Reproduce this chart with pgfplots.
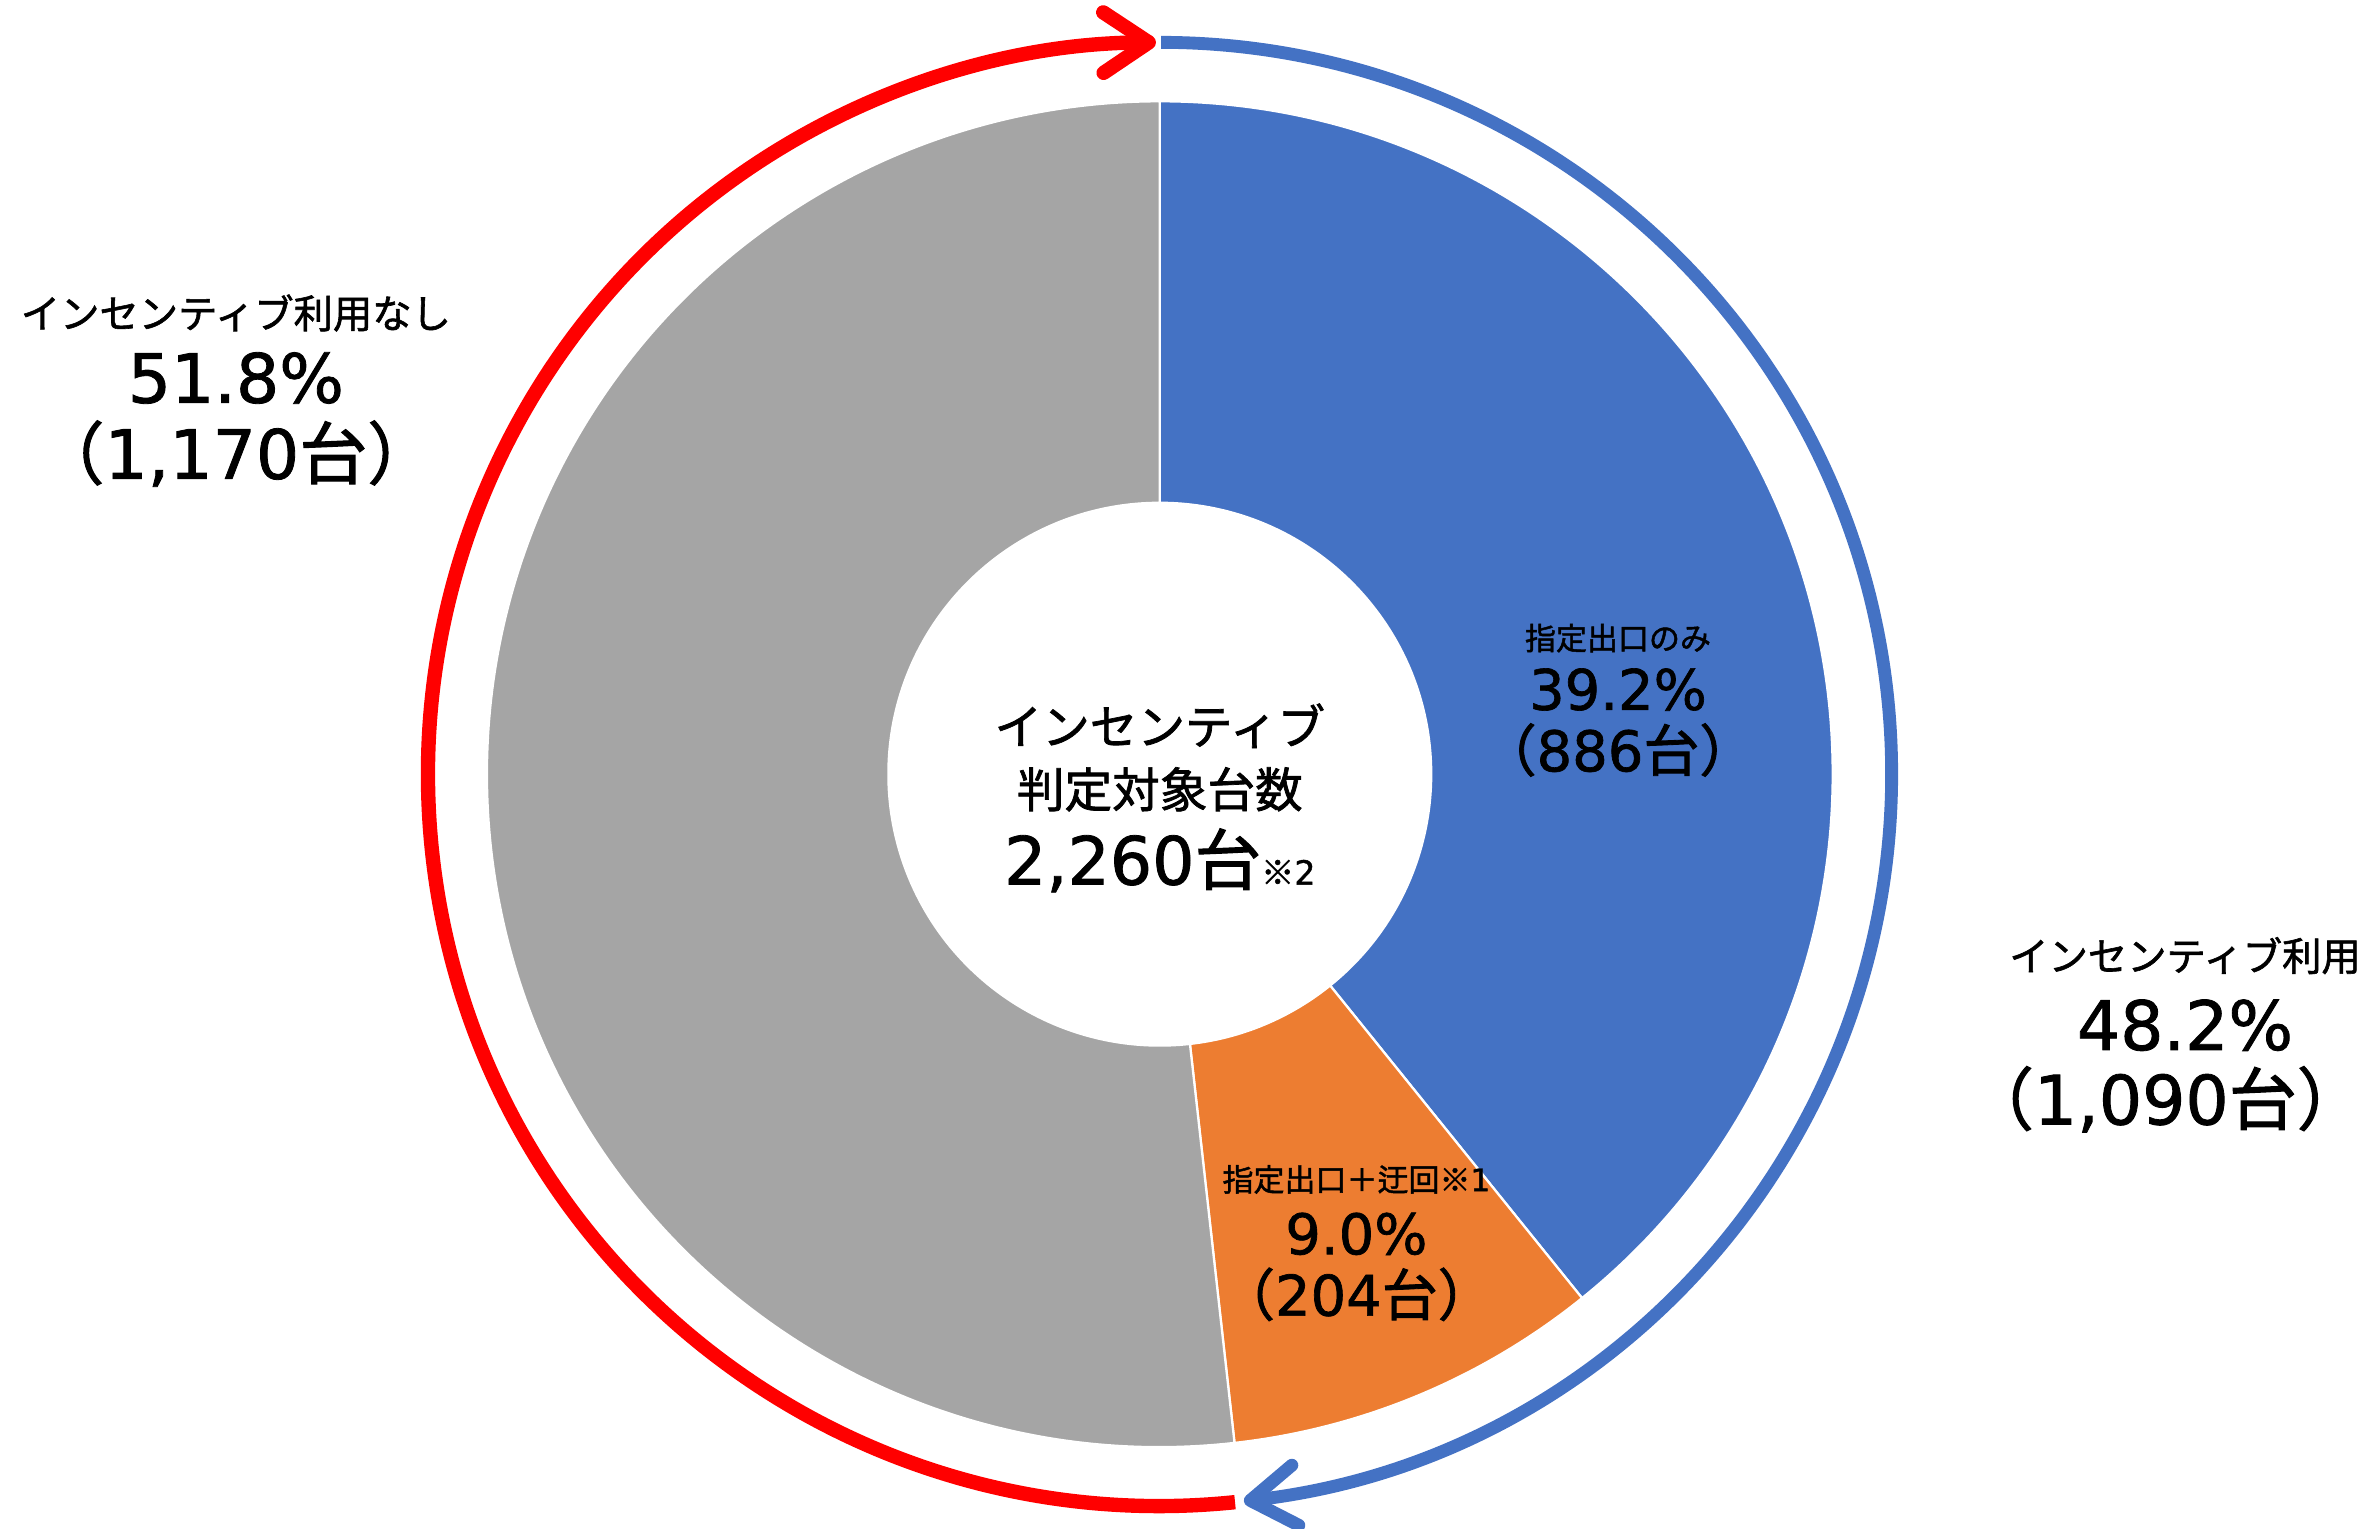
\documentclass[border=0pt]{standalone}
\usepackage{pgfplots}
\pgfplotsset{compat=1.18}
\usetikzlibrary{arrows.meta}
\usepackage{fontspec}
\setmainfont{Noto Sans CJK JP}[FakeBold=1.5]
\newfontfamily\lat{DejaVu Sans}[FakeBold=1.2]
\definecolor{cblue}{HTML}{4472C4}
\definecolor{corange}{HTML}{ED7D31}
\definecolor{cgrey}{HTML}{A5A5A5}
\definecolor{cred}{HTML}{FF0000}
\newcommand{\fs}[1]{\fontsize{#1}{#1}\selectfont}
\begin{document}
\begin{tikzpicture}
% data: vehicles per group
\pgfmathsetmacro{\vA}{886}
\pgfmathsetmacro{\vB}{204}
\pgfmathsetmacro{\vC}{1170}
\pgfmathsetmacro{\tot}{\vA+\vB+\vC}
\pgfmathsetmacro{\aA}{90}
\pgfmathsetmacro{\aB}{\aA-\vA/\tot*360}
\pgfmathsetmacro{\aC}{\aB-\vB/\tot*360}
\pgfmathsetmacro{\aD}{\aC-\vC/\tot*360}
\def\Ro{445pt}
\def\Ri{179.5pt}
\begin{axis}[width=1568pt,height=1011pt,scale only axis,hide axis,
  xmin=0,xmax=1568,ymin=0,ymax=1011,clip=false,
  every node/.append style={inner sep=0pt}]
\filldraw[fill=cblue,draw=white,line width=1.5pt] (axis cs:767,499) ++(\aA:\Ro) arc[start angle=\aA,end angle=\aB,radius=\Ro] -- ++(\aB+180:445pt-179.5pt) arc[start angle=\aB,end angle=\aA,radius=\Ri] -- cycle;
\filldraw[fill=corange,draw=white,line width=1.5pt] (axis cs:767,499) ++(\aB:\Ro) arc[start angle=\aB,end angle=\aC,radius=\Ro] -- ++(\aC+180:445pt-179.5pt) arc[start angle=\aC,end angle=\aB,radius=\Ri] -- cycle;
\filldraw[fill=cgrey,draw=white,line width=1.5pt] (axis cs:767,499) ++(\aC:\Ro) arc[start angle=\aC,end angle=\aD,radius=\Ro] -- ++(\aD+180:445pt-179.5pt) arc[start angle=\aD,end angle=\aC,radius=\Ri] -- cycle;
% arrows
\draw[cblue,line width=8.5pt,-{Straight Barb[length=30pt,width=40pt,round]}] (axis cs:767,499) ++(89.9:484pt) arc[start angle=89.9,end angle=-83.4,radius=484pt];
\draw[cred,line width=9.5pt,-{Straight Barb[length=30pt,width=40pt,round]}] (axis cs:767,499) ++(-84.1:484pt) arc[start angle=-84.1,end angle=-269.7,radius=484pt];
% labels
\node[font=\fs{26}] at (axis cs:156,804) {インセンティブ利用なし};
\node[font=\fs{45}] at (axis cs:156,761) {\lat 51.8\%};
\node[font=\fs{45}] at (axis cs:156,711) {（{\lat 1,170}台）};
\node[font=\fs{26}] at (axis cs:1445,379) {インセンティブ利用};
\node[font=\fs{45}] at (axis cs:1445,333) {\lat 48.2\%};
\node[font=\fs{45}] at (axis cs:1432,284) {（{\lat 1,090}台）};
\node[font=\fs{20.5}] at (axis cs:1070,589) {指定出口のみ};
\node[font=\fs{37}] at (axis cs:1070,555) {\lat 39.2\%};
\node[font=\fs{37}] at (axis cs:1070,515) {（{\lat 886}台）};
\node[font=\fs{20.5}] at (axis cs:897,231) {指定出口＋迂回※{\lat 1}};
\node[font=\fs{37}] at (axis cs:897,195) {\lat 9.0\%};
\node[font=\fs{37}] at (axis cs:897,155) {（{\lat 204}台）};
\node[font=\fs{31.5}] at (axis cs:767,531) {インセンティブ};
\node[font=\fs{31.5}] at (axis cs:767,489) {判定対象台数};
\node[font=\fs{44}] at (axis cs:767,442) {{\lat 2,260}台{\fs{22}※{\lat 2}}};
\end{axis}
\pgfresetboundingbox
\useasboundingbox (current axis.south west) rectangle (current axis.north east);
\end{tikzpicture}
\end{document}
